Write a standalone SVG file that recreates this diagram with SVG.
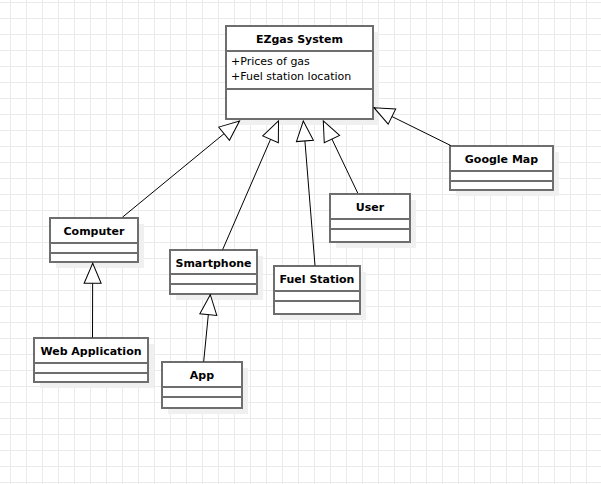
<svg xmlns="http://www.w3.org/2000/svg" width="601" height="484" viewBox="0 0 601 484">
<defs>
<pattern id="grid" x="10" y="2" width="16" height="16" patternUnits="userSpaceOnUse">
<path d="M0.5,0 V16 M0,0.5 H16" stroke="#ebebeb" stroke-width="1" fill="none"/>
</pattern>
<marker id="gen" markerWidth="24" markerHeight="21" viewBox="-2 -2 24 21" refX="20" refY="8.5" orient="auto" markerUnits="userSpaceOnUse">
<path d="M0,0 L20,8.5 L0,17 Z" fill="#fff" stroke="#000" stroke-width="1"/>
</marker>
</defs>
<style>
.shadow{fill:#f0f0f0;stroke:none}
.box{fill:#fff;stroke:#6e6e6e;stroke-width:2}
.div{stroke:#6e6e6e;stroke-width:2}
.title{font-family:"DejaVu Sans",sans-serif;font-size:11px;font-weight:bold;fill:#000;text-anchor:middle}
.attr{font-family:"DejaVu Sans",sans-serif;font-size:11px;fill:#000}
.conn line{stroke:#000;stroke-width:1;fill:none;marker-end:url(#gen)}
</style>
<rect width="601" height="484" fill="#fff"/>
<rect width="601" height="484" fill="url(#grid)"/>

<g id="ezgas">
<rect class="shadow" x="232" y="32" width="147" height="93"/>
<rect class="box" x="226" y="26" width="147" height="93"/>
<line class="div" x1="226" y1="51" x2="373" y2="51"/>
<line class="div" x1="226" y1="89" x2="373" y2="89"/>
<text class="title" x="299.5" y="43">EZgas System</text>
<text class="attr" x="231" y="65">+Prices of gas</text>
<text class="attr" x="231" y="80">+Fuel station location</text>
</g>

<g id="computer">
<rect class="shadow" x="56" y="224" width="88" height="44"/>
<rect class="box" x="50" y="218" width="88" height="44"/>
<line class="div" x1="50" y1="243" x2="138" y2="243"/>
<line class="div" x1="50" y1="253" x2="138" y2="253"/>
<text class="title" x="94" y="235">Computer</text>
</g>

<g id="smartphone">
<rect class="shadow" x="176" y="256" width="87" height="44"/>
<rect class="box" x="170" y="250" width="87" height="44"/>
<line class="div" x1="170" y1="274" x2="257" y2="274"/>
<line class="div" x1="170" y1="284" x2="257" y2="284"/>
<text class="title" x="213.5" y="267">Smartphone</text>
</g>

<g id="webapp">
<rect class="shadow" x="40" y="344" width="114" height="44"/>
<rect class="box" x="34" y="338" width="114" height="44"/>
<line class="div" x1="34" y1="363" x2="148" y2="363"/>
<line class="div" x1="34" y1="373" x2="148" y2="373"/>
<text class="title" x="91" y="355">Web Application</text>
</g>

<g id="app">
<rect class="shadow" x="168" y="368" width="80" height="46"/>
<rect class="box" x="162" y="362" width="80" height="46"/>
<line class="div" x1="162" y1="387" x2="242" y2="387"/>
<line class="div" x1="162" y1="397" x2="242" y2="397"/>
<text class="title" x="202" y="379">App</text>
</g>

<g id="fuelstation">
<rect class="shadow" x="280" y="272" width="86" height="48"/>
<rect class="box" x="274" y="266" width="86" height="48"/>
<line class="div" x1="274" y1="291" x2="360" y2="291"/>
<line class="div" x1="274" y1="301" x2="360" y2="301"/>
<text class="title" x="317" y="283">Fuel Station</text>
</g>

<g id="user">
<rect class="shadow" x="336" y="200" width="80" height="48"/>
<rect class="box" x="330" y="194" width="80" height="48"/>
<line class="div" x1="330" y1="219" x2="410" y2="219"/>
<line class="div" x1="330" y1="229" x2="410" y2="229"/>
<text class="title" x="370" y="211">User</text>
</g>

<g id="googlemap">
<rect class="shadow" x="456" y="152" width="103" height="44"/>
<rect class="box" x="450" y="146" width="103" height="44"/>
<line class="div" x1="450" y1="171" x2="553" y2="171"/>
<line class="div" x1="450" y1="181" x2="553" y2="181"/>
<text class="title" x="501.5" y="163">Google Map</text>
</g>

<g id="connectors" class="conn">
<line x1="122.7" y1="217" x2="239.5" y2="121"/>
<line x1="222.7" y1="249.5" x2="278.5" y2="121"/>
<line x1="315" y1="265.5" x2="303.3" y2="121"/>
<line x1="357.7" y1="193" x2="323.3" y2="121"/>
<line x1="450.7" y1="145.5" x2="374" y2="107.7"/>
<line x1="92.5" y1="337.5" x2="92.7" y2="263.3"/>
<line x1="203.7" y1="361.5" x2="210.3" y2="294.7"/>
</g>
</svg>
